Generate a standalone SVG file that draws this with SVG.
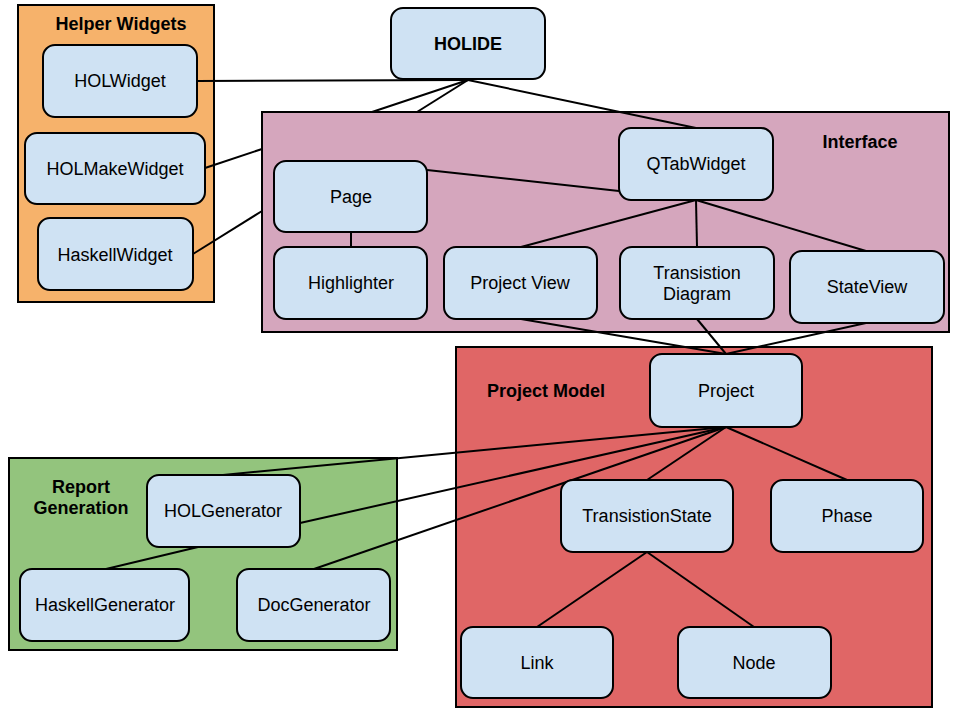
<svg xmlns="http://www.w3.org/2000/svg" width="960" height="720" viewBox="0 0 960 720">
<style>
.panel{stroke:#000;stroke-width:2}
.node rect{fill:#cfe2f3;stroke:#000;stroke-width:2}
text{font-family:"Liberation Sans",Arial,sans-serif;font-size:18px;fill:#000;text-anchor:middle}
.title{font-weight:bold}
.conn line{stroke:#000;stroke-width:2}
</style>
<rect width="960" height="720" fill="#fff"/>
<g id="panel-helper"><rect class="panel" x="18" y="5" width="196" height="297" fill="#f6b26b"/><text class="title" x="121" y="30">Helper Widgets</text></g>
<g id="panel-interface"><rect class="panel" x="262" y="112" width="687" height="220" fill="#d5a6bd"/><text class="title" x="860" y="148">Interface</text></g>
<g id="panel-model"><rect class="panel" x="456" y="347" width="476" height="360" fill="#e06666"/><text class="title" x="546" y="397">Project Model</text></g>
<g id="panel-report"><rect class="panel" x="9" y="458" width="388" height="192" fill="#93c47d"/><text class="title" x="81" y="493">Report</text><text class="title" x="81" y="514">Generation</text></g>
<g class="conn" id="connectors">
<line x1="197" y1="81" x2="468" y2="80"/>
<line x1="205" y1="168" x2="262" y2="149"/>
<line x1="372" y1="112" x2="468" y2="80"/>
<line x1="193" y1="254" x2="262" y2="211"/>
<line x1="417" y1="112" x2="468" y2="80"/>
<line x1="468" y1="80" x2="696" y2="128"/>
<line x1="427" y1="170" x2="619" y2="191"/>
<line x1="351" y1="232" x2="351" y2="247"/>
<line x1="696" y1="200" x2="521" y2="247"/>
<line x1="696" y1="200" x2="697" y2="247"/>
<line x1="696" y1="200" x2="866" y2="251"/>
<line x1="521" y1="319" x2="726" y2="354"/>
<line x1="697" y1="319" x2="726" y2="354"/>
<line x1="866" y1="323" x2="726" y2="354"/>
<line x1="726" y1="427" x2="223" y2="475"/>
<line x1="726" y1="427" x2="300" y2="523"/>
<line x1="726" y1="427" x2="314" y2="569"/>
<line x1="726" y1="427" x2="647" y2="480"/>
<line x1="726" y1="427" x2="847" y2="480"/>
<line x1="198" y1="547" x2="106" y2="569"/>
<line x1="647" y1="552" x2="537" y2="627"/>
<line x1="647" y1="552" x2="754" y2="627"/>
</g>
<g class="node" id="n-holide"><rect x="391" y="8" width="154" height="71" rx="12"/><text class="title" x="468" y="50">HOLIDE</text></g>
<g class="node" id="n-holwidget"><rect x="43" y="45" width="154" height="72" rx="12"/><text x="120" y="87">HOLWidget</text></g>
<g class="node" id="n-holmake"><rect x="25" y="133" width="180" height="71" rx="12"/><text x="115" y="175">HOLMakeWidget</text></g>
<g class="node" id="n-haskellwidget"><rect x="38" y="218" width="155" height="72" rx="12"/><text x="115" y="261">HaskellWidget</text></g>
<g class="node" id="n-qtab"><rect x="619" y="128" width="154" height="72" rx="12"/><text x="696" y="170">QTabWidget</text></g>
<g class="node" id="n-page"><rect x="274" y="161" width="153" height="71" rx="12"/><text x="351" y="203">Page</text></g>
<g class="node" id="n-highlighter"><rect x="274" y="247" width="153" height="72" rx="12"/><text x="351" y="289">Highlighter</text></g>
<g class="node" id="n-projectview"><rect x="444" y="247" width="153" height="72" rx="12"/><text x="520" y="289">Project View</text></g>
<g class="node" id="n-transdiag"><rect x="620" y="247" width="154" height="72" rx="12"/><text x="697" y="279">Transistion</text><text x="697" y="300">Diagram</text></g>
<g class="node" id="n-stateview"><rect x="790" y="251" width="154" height="72" rx="12"/><text x="867" y="293">StateView</text></g>
<g class="node" id="n-project"><rect x="650" y="354" width="152" height="73" rx="12"/><text x="726" y="397">Project</text></g>
<g class="node" id="n-holgen"><rect x="147" y="475" width="153" height="72" rx="12"/><text x="223" y="517">HOLGenerator</text></g>
<g class="node" id="n-haskellgen"><rect x="20" y="569" width="169" height="72" rx="12"/><text x="105" y="611">HaskellGenerator</text></g>
<g class="node" id="n-docgen"><rect x="237" y="569" width="153" height="72" rx="12"/><text x="314" y="611">DocGenerator</text></g>
<g class="node" id="n-transstate"><rect x="561" y="480" width="172" height="72" rx="12"/><text x="647" y="522">TransistionState</text></g>
<g class="node" id="n-phase"><rect x="771" y="480" width="152" height="72" rx="12"/><text x="847" y="522">Phase</text></g>
<g class="node" id="n-link"><rect x="461" y="627" width="152" height="71" rx="12"/><text x="537" y="669">Link</text></g>
<g class="node" id="n-node"><rect x="678" y="627" width="153" height="71" rx="12"/><text x="754" y="669">Node</text></g>
</svg>
